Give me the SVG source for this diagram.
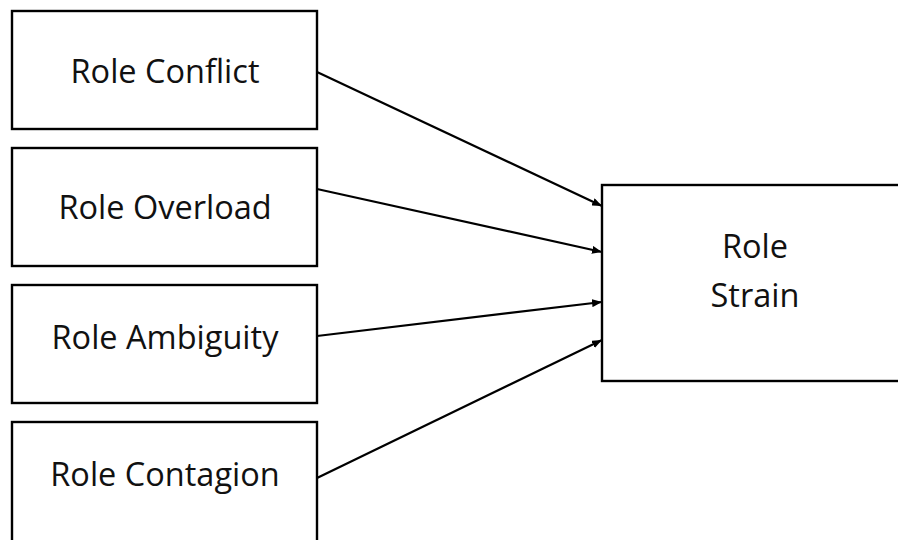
<svg xmlns="http://www.w3.org/2000/svg" width="898" height="540" viewBox="0 0 898 540">
<style>
.box{fill:#fff;stroke:#000;stroke-width:2.4}
.lbl{font-family:"Open Sans","Noto Sans",sans-serif;font-size:32.5px;fill:#111;text-anchor:middle}
.edge{stroke:#000;stroke-width:2.2;fill:none;marker-end:url(#ah)}
</style>
<defs>
<marker id="ah" markerWidth="10" markerHeight="8" refX="10" refY="4" orient="auto" markerUnits="userSpaceOnUse">
<path d="M0,0 L10,4 L0,8 z" fill="#000"/>
</marker>
</defs>
<rect width="898" height="540" fill="#fff"/>
<g id="n1"><rect class="box" x="12" y="11" width="305" height="118"/><text class="lbl" x="165" y="83">Role Conflict</text></g>
<g id="n2"><rect class="box" x="12" y="148" width="305" height="118"/><text class="lbl" x="165" y="219">Role Overload</text></g>
<g id="n3"><rect class="box" x="12" y="285" width="305" height="118"/><text class="lbl" x="165" y="349">Role Ambiguity</text></g>
<g id="n4"><rect class="box" x="12" y="422" width="305" height="130"/><text class="lbl" x="165" y="486">Role Contagion</text></g>
<g id="n5"><rect class="box" x="602" y="185" width="310" height="196"/><text class="lbl" x="755" y="258">Role</text><text class="lbl" x="755" y="307">Strain</text></g>
<g id="edges">
<line class="edge" x1="317" y1="72" x2="602" y2="206"/>
<line class="edge" x1="317" y1="189" x2="602" y2="252"/>
<line class="edge" x1="317" y1="336" x2="602" y2="302"/>
<line class="edge" x1="317" y1="478" x2="602" y2="340"/>
</g>
</svg>
